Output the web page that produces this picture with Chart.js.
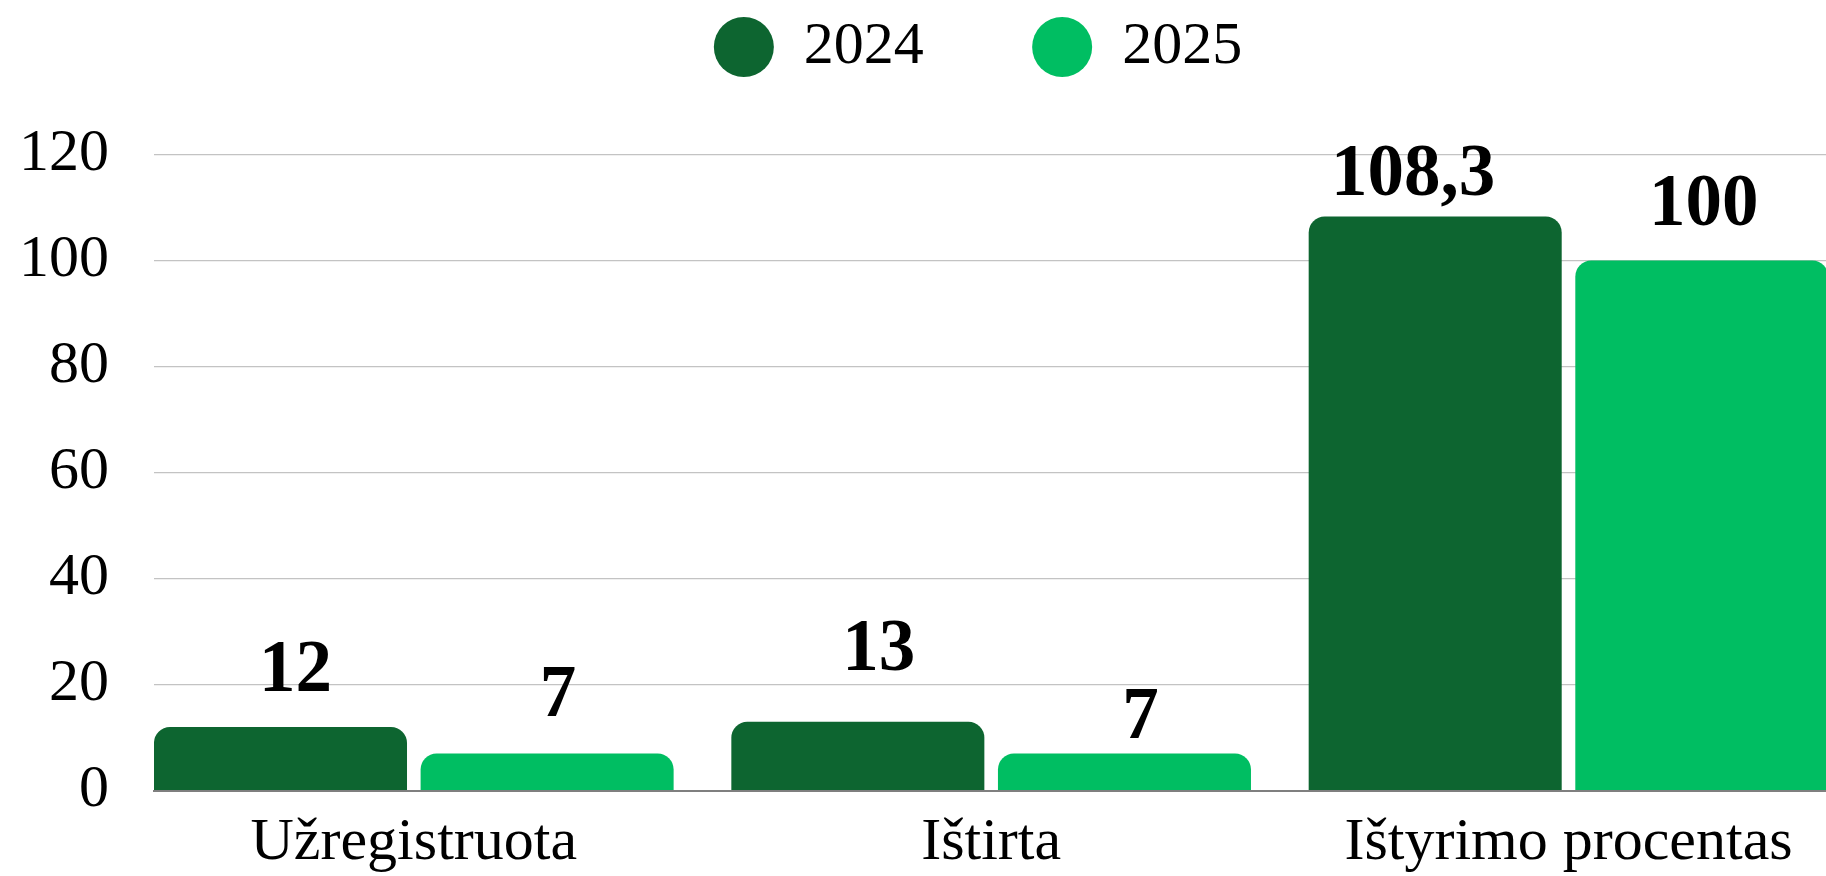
<!DOCTYPE html>
<html>
<head>
<meta charset="utf-8">
<script src="https://cdn.jsdelivr.net/npm/chart.js@4"></script>
<style>
html,body{margin:0;padding:0;background:#fff;overflow:hidden}
#wrap{width:1826px;height:876px;position:relative}
</style>
</head>
<body>
<div id="wrap"><canvas id="c"></canvas></div>
<script>
// ---- data ----
const categories = ['Užregistruota', 'Ištirta', 'Ištyrimo procentas'];
const seriesNames = ['2024', '2025'];
const values2024 = [12, 13, 108.3];
const values2025 = [7, 7, 100];
const yTicks = [0, 20, 40, 60, 80, 100, 120];

// ---- label nudges as placed in the source chart (px) ----
const labelDx = [[15, 21, -22], [11, 16, 2]];
const labelGap = [[36, 52, 22], [38, 16, 36]];

const SERIF = "'Liberation Serif', 'Times New Roman', serif";
const COLORS = ['#0D6530', '#00BE62'];
const fmt = v => String(v).replace('.', ',');

const valueLabels = {
  id: 'valueLabels',
  afterDatasetsDraw(chart) {
    const ctx = chart.ctx;
    ctx.save();
    ctx.font = 'bold 73px ' + SERIF;
    ctx.fillStyle = '#000';
    ctx.textAlign = 'center';
    ctx.textBaseline = 'alphabetic';
    chart.data.datasets.forEach((ds, di) => {
      const meta = chart.getDatasetMeta(di);
      meta.data.forEach((bar, i) => {
        ctx.fillText(fmt(ds.data[i].y), bar.x + labelDx[di][i], bar.y - labelGap[di][i]);
      });
    });
    ctx.restore();
  }
};

// legend sits higher and a little right of the default spot in the source chart
const legendShift = {
  id: 'legendShift',
  afterLayout(chart) {
    const l = chart.legend;
    if (l) { l.top -= 91.3; l.left += 65; l.right += 65; }
  }
};

const seriesValues = [values2024, values2025];

new Chart(document.getElementById('c'), {
  type: 'bar',
  data: {
    datasets: seriesNames.map((name, di) => ({
      label: name,
      data: seriesValues[di].map((v, i) => ({ x: i, y: v })),
      backgroundColor: COLORS[di],
      borderWidth: 0,
      borderRadius: 16,
      borderSkipped: 'start',
      categoryPercentage: 0.9236,
      barPercentage: 0.949,
      pointStyle: 'circle'
    }))
  },
  options: {
    responsive: true,
    maintainAspectRatio: false,
    animation: false,
    layout: { padding: 0 },
    plugins: {
      legend: {
        position: 'top',
        align: 'center',
        maxHeight: 154.5,
        labels: {
          usePointStyle: true,
          pointStyle: 'circle',
          pointStyleWidth: 60,
          boxHeight: 42.43,
          padding: 108.3,
          color: '#000',
          font: { family: SERIF, size: 60 }
        }
      },
      tooltip: { enabled: false }
    },
    scales: {
      x: {
        type: 'linear',
        min: -0.45,
        max: 2.446,
        offset: false,
        grid: { display: false, drawTicks: false },
        border: { display: true, color: '#7f7f7f', width: 2 },
        afterBuildTicks: axis => { axis.ticks = categories.map((_, i) => ({ value: i })); },
        afterFit: axis => { axis.height = 85.3; },
        ticks: {
          autoSkip: false,
          maxRotation: 0,
          padding: 17,
          color: '#000',
          font: { family: SERIF, size: 60, lineHeight: 1.2 },
          callback: v => categories[v] !== undefined ? categories[v] : ''
        }
      },
      y: {
        min: 0,
        max: 120,
        afterBuildTicks: axis => { axis.ticks = yTicks.map(v => ({ value: v })); },
        afterFit: axis => { axis.width = 154; },
        grid: {
          color: c => (c.tick && c.tick.value === 0) ? '#7f7f7f' : '#c3c3c3',
          lineWidth: 1.3,
          drawTicks: false
        },
        border: { display: false },
        ticks: { padding: 45, color: '#000', font: { family: SERIF, size: 60 } }
      }
    }
  },
  plugins: [valueLabels, legendShift]
});
</script>
</body>
</html>
